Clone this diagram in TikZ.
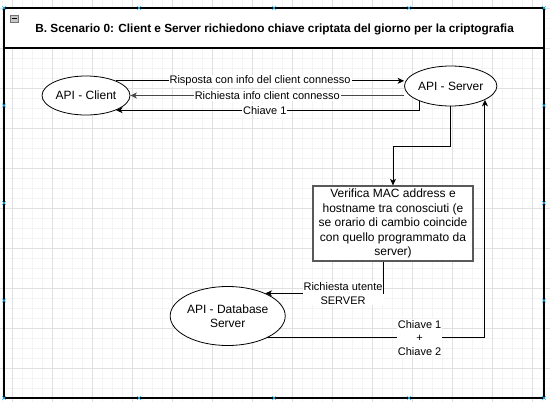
\documentclass[tikz,border=0pt]{standalone}
\usepackage{fontspec}
\setmainfont{Liberation Sans}
\usetikzlibrary{arrows.meta,calc,shapes.geometric}
\definecolor{mkblue}{RGB}{41,182,242}
\definecolor{gridmaj}{RGB}{224,224,224}
\definecolor{gridmin}{RGB}{244,244,244}
\begin{document}
\begin{tikzpicture}[x=1pt,y=-1pt,
  arr/.style={draw=black, line width=0.9pt, -{Stealth[length=6.5pt,width=6pt,inset=1.8pt]}},
  arrgray/.style={arr, draw=black!72, line width=1.3pt},
  ell/.style={ellipse, draw=black, line width=0.8pt, fill=white, inner sep=0pt,
    font=\fontsize{12}{14.4}\selectfont, align=center},
  lbl/.style={fill=white, inner sep=1pt, font=\fontsize{11}{13.5}\selectfont, align=center},
  procbox/.style={draw=black!65, line width=1.3pt, fill=white, inner sep=0pt,
    minimum width=160pt, minimum height=75pt, align=center,
    font=\fontsize{12}{14.5}\selectfont},
  mk/.style={draw=mkblue, line width=0.6pt}
]
\useasboundingbox (0,0) rectangle (550,402);
\fill[white] (0,0) rectangle (550,402);
% grid
\foreach \x in {2.5,12.5,...,552.5} \draw[gridmin, line width=0.6pt] (\x,0) -- (\x,402);
\foreach \y in {-2,8,...,402} \draw[gridmin, line width=0.6pt] (0,\y) -- (550,\y);
\foreach \x in {12.5,52.5,...,552.5} \draw[gridmaj, line width=0.8pt] (\x,0) -- (\x,402);
\foreach \y in {8,48,...,402} \draw[gridmaj, line width=0.8pt] (0,\y) -- (550,\y);
% container
\draw[line width=1.2pt, fill=white] (4,8) rectangle (544,48);
\draw[line width=1.2pt] (4,8) rectangle (544,398);
\draw[black!55, fill=black!22, line width=0.6pt] (10,15) rectangle (18,22);
\draw[black, line width=0.8pt] (11.5,18.5) -- (16.5,18.5);
\node[font=\bfseries\fontsize{11.8}{14}\selectfont] (title) at (274.6,29.5)
  {B. Scenario 0: Client e Server richiedono chiave criptata del giorno per la criptografia};
% markers
\foreach \p in {(4,8),(139,8),(274,8),(409,8),(544,8),
                (4,398),(139,398),(274,398),(409,398),(544,398),
                (4,105.5),(4,203),(4,300.5),(544,105.5),(544,203),(544,300.5)}
  \draw[mk] \p ++(-1.8,-1.8) -- ++(3.6,3.6) \p ++(-1.8,1.8) -- ++(3.6,-3.6);
% nodes
\node[ell, minimum width=88pt, minimum height=39pt] (client) at (86,95.5) {API - Client};
\node[ell, minimum width=80pt, minimum height=40pt] (server) at (450.7,86) {API - Server};
\node[ell, minimum width=110pt, minimum height=59pt] (db) at (227.7,316) {API - Database\\Server};
\node[procbox] (verif) at (393,223.5) {Verifica MAC address e\\hostname tra conosciuti (e\\se orario di cambio coincide\\con quello programmato da\\server)};
% edges
\draw[arr] (client.26) -- (client.26 -| server.west)
  node[midway, lbl] {Risposta con info del client connesso};
\draw[arrgray] (client.east -| server.west) -- (client.east)
  node[midway, lbl] {Richiesta info client connesso};
\draw[arr] (server.206) |- (client.-26)
  node[pos=0.755, lbl] {Chiave 1};
\draw[arr] (server.south) -- ++(0,40) -| (verif.north);
\draw[arr] ($(verif.south)+(-10,0)$) |- (db.31)
  node[pos=0.67, lbl] {Richiesta utente\\SERVER};
\draw[arr] (db.-29) -| (server.-22)
  node[pos=0.35, lbl] {Chiave 1\\+\\Chiave 2};
\end{tikzpicture}
\end{document}
